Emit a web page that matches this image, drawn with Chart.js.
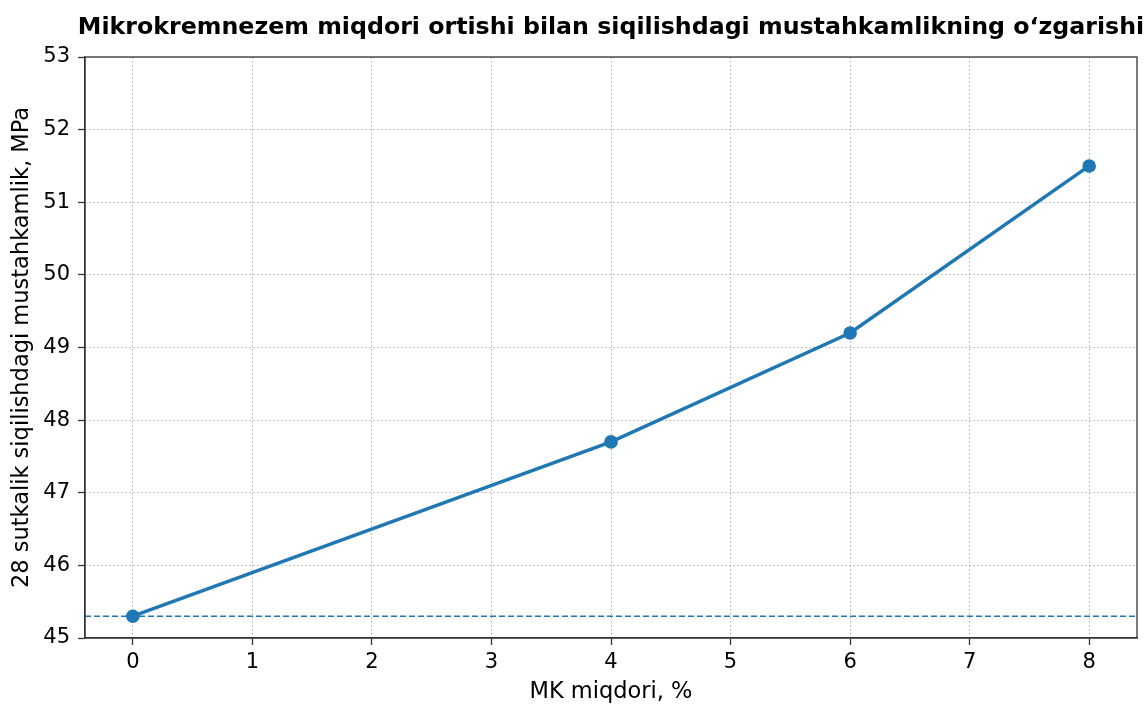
<!DOCTYPE html>
<html>
<head>
<meta charset="utf-8">
<script src="https://cdn.jsdelivr.net/npm/chart.js@4.4.1/dist/chart.umd.min.js"></script>
<style>
  html, body { margin: 0; padding: 0; background: #fff; }
  #wrap { width: 1148px; height: 706px; }
</style>
</head>
<body>
<div id="wrap"><canvas id="chart" width="1148" height="706"></canvas></div>
<script>
// data
var mkPercent = [0, 4, 6, 8];
var strength = [45.3, 47.7, 49.2, 51.5];
var xTicks = [0, 1, 2, 3, 4, 5, 6, 7, 8];
var yTicks = [45, 46, 47, 48, 49, 50, 51, 52, 53];
var baseLevel = 45.3;

var titleText = 'Mikrokremnezem miqdori ortishi bilan siqilishdagi mustahkamlikning o\u2018zgarishi';
var xLabel = 'MK miqdori, %';
var yLabel = '28 sutkalik siqilishdagi mustahkamlik, MPa';

var FONT = 'DejaVu Sans';
var BLUE = '#1f77b4';

// frame, reference line and title
var extras = {
  id: 'extras',
  beforeDatasetsDraw: function(chart) {
    var ctx = chart.ctx, a = chart.chartArea;
    var y = chart.scales.y.getPixelForValue(baseLevel);
    ctx.save();
    ctx.strokeStyle = BLUE;
    ctx.lineWidth = 1.6;
    ctx.setLineDash([6, 3]);
    ctx.beginPath();
    ctx.moveTo(a.left, y);
    ctx.lineTo(a.right, y);
    ctx.stroke();
    ctx.restore();
  },
  afterDraw: function(chart) {
    var ctx = chart.ctx, a = chart.chartArea;
    ctx.save();
    ctx.strokeStyle = '#333';
    ctx.lineWidth = 1.3;
    ctx.strokeRect(a.left, a.top, a.right - a.left, a.bottom - a.top);
    ctx.fillStyle = '#000';
    ctx.font = 'bold 23.7px "' + FONT + '"';
    ctx.textAlign = 'center';
    ctx.textBaseline = 'middle';
    ctx.fillText(titleText, (a.left + a.right) / 2, 27.5);
    ctx.restore();
  }
};

var gridOpts = {
  color: '#b0b0b0',
  lineWidth: 1,
  tickLength: 7,
  tickColor: '#333',
  tickWidth: 1.3,
  tickBorderDash: [],
  drawTicks: true
};

new Chart(document.getElementById('chart'), {
  type: 'line',
  data: {
    datasets: [{
      data: mkPercent.map(function(x, i) { return { x: x, y: strength[i] }; }),
      borderColor: BLUE,
      backgroundColor: BLUE,
      borderWidth: 3.5,
      pointRadius: 6.8,
      pointHoverRadius: 6.8,
      pointBorderWidth: 0,
      tension: 0
    }]
  },
  options: {
    responsive: false,
    animation: false,
    events: [],
    layout: { padding: { top: 57, right: 11, left: 0, bottom: 0 } },
    plugins: { legend: { display: false }, tooltip: { enabled: false } },
    scales: {
      x: {
        type: 'linear',
        min: -0.4,
        max: 8.4,
        afterBuildTicks: function(s) { s.ticks = xTicks.map(function(v) { return { value: v }; }); },
        afterFit: function(s) { s.height = 68; },
        grid: gridOpts,
        border: { display: true, color: '#333', width: 1.3, dash: [1.5, 2.5] },
        ticks: { color: '#000', padding: 5, font: { family: FONT, size: 21 }, maxRotation: 0 },
        title: { display: true, text: xLabel, color: '#000', font: { family: FONT, size: 22.5 }, padding: { top: 0, bottom: 0.5 } }
      },
      y: {
        type: 'linear',
        min: 45,
        max: 53,
        afterBuildTicks: function(s) { s.ticks = yTicks.map(function(v) { return { value: v }; }); },
        afterFit: function(s) { s.width = 85; },
        grid: gridOpts,
        border: { display: true, color: '#333', width: 1.3, dash: [1.5, 2.5] },
        ticks: { color: '#000', padding: 8, font: { family: FONT, size: 21 } },
        title: { display: true, text: yLabel, color: '#000', font: { family: FONT, size: 22.5 }, padding: { top: 8.5, bottom: 0 } }
      }
    }
  },
  plugins: [extras]
});
</script>
</body>
</html>
